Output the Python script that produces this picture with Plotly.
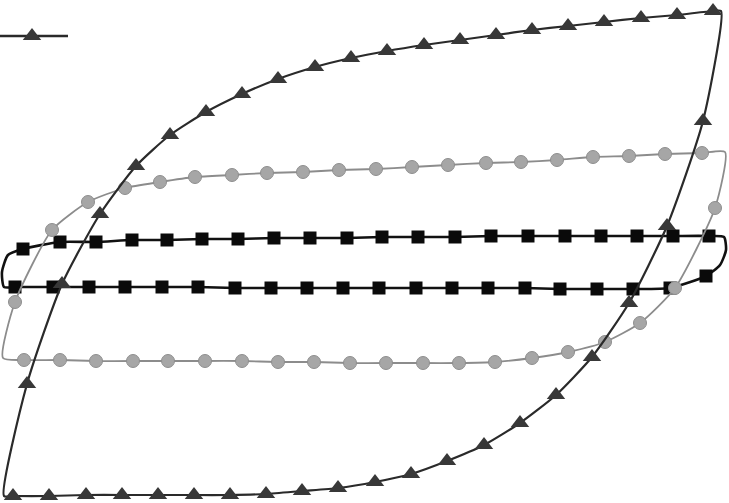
import plotly.graph_objects as go

# ---- data (x = displacement units, y = force units, screen-like scale) ----
# Triangle loop (largest)
tri_x = [4, 13, 49, 86, 122, 158, 194, 230, 266, 302, 338, 375, 411, 447, 484, 520, 556, 592, 629, 667, 703, 721,
         713, 677, 641, 604, 568, 532, 496, 460, 424, 387, 351, 315, 278, 242, 206, 170, 136, 100, 62, 27, 4]
tri_y = [496, 496, 496, 495, 495, 495, 495, 495, 494, 491, 488, 482, 474, 461, 445, 423, 395, 357, 303, 226, 121, 11,
         11, 15, 18, 22, 26, 30, 35, 40, 45, 51, 58, 67, 79, 94, 112, 135, 166, 214, 284, 384, 496]
tri_corner = [0, 21, 42]

# Circle loop (middle)
cir_x = [3, 24, 60, 96, 133, 168, 205, 242, 278, 314, 350, 386, 423, 459, 495, 532, 568, 605, 640, 675, 715, 725,
         702, 665, 629, 593, 557, 521, 486, 448, 412, 376, 339, 303, 267, 232, 195, 160, 125, 88, 52, 15, 3]
cir_y = [358, 360, 360, 361, 361, 361, 361, 361, 362, 362, 363, 363, 363, 363, 362, 358, 352, 342, 323, 288, 208, 152,
         153, 154, 156, 157, 160, 162, 163, 165, 167, 169, 170, 172, 173, 175, 177, 182, 188, 202, 230, 302, 358]
cir_corner = [0, 21, 42]

# Square loop (smallest)
sq_x = [23, 60, 96, 132, 167, 202, 238, 274, 310, 347, 382, 418, 455, 491, 528, 565, 601, 637, 673, 709, 724, 726, 720,
        706, 670, 633, 597, 560, 525, 488, 452, 416, 379, 343, 307, 271, 235, 198, 162, 125, 89, 53, 15, 4, 2, 8, 23]
sq_y = [249, 242, 242, 240, 240, 239, 239, 238, 238, 238, 237, 237, 237, 236, 236, 236, 236, 236, 236, 236, 237, 250, 265,
        276, 288, 289, 289, 289, 288, 288, 288, 288, 288, 288, 288, 288, 288, 287, 287, 287, 287, 287, 287, 287, 272, 255, 249]
sq_corner = [20, 21, 22, 43, 44, 45, 46]

# Partial legend sample (top-left)
leg_x = [0, 32, 68]
leg_y = [36, 36, 36]
leg_marked = [1]


def sizes(n, corners, s):
    return [0 if i in corners else s for i in range(n)]


fig = go.Figure()

fig.add_trace(go.Scatter(
    x=sq_x, y=sq_y, mode="lines+markers",
    line=dict(color="#111111", width=2.6, shape="spline", smoothing=0.6),
    marker=dict(symbol="square", size=sizes(len(sq_x), sq_corner, 13), color="#0a0a0a",
                opacity=1, line=dict(width=0)),
    hoverinfo="skip"))

fig.add_trace(go.Scatter(
    x=cir_x, y=cir_y, mode="lines+markers",
    line=dict(color="#8c8c8c", width=1.8, shape="spline", smoothing=0.6),
    marker=dict(symbol="circle", size=sizes(len(cir_x), cir_corner, 13), color="#a6a6a6",
                opacity=1, line=dict(width=1, color="#8e8e8e")),
    hoverinfo="skip"))

fig.add_trace(go.Scatter(
    x=tri_x, y=tri_y, mode="lines+markers",
    line=dict(color="#2a2a2a", width=2.2, shape="spline", smoothing=0.6),
    marker=dict(symbol="triangle-up", size=sizes(len(tri_x), tri_corner, 16), color="#383838",
                opacity=1, line=dict(width=0)),
    hoverinfo="skip"))

fig.add_trace(go.Scatter(
    x=leg_x, y=leg_y, mode="lines+markers",
    line=dict(color="#2a2a2a", width=2.4),
    marker=dict(symbol="triangle-up", size=[16 if i in leg_marked else 0 for i in range(len(leg_x))],
                color="#383838", opacity=1, line=dict(width=0)),
    hoverinfo="skip"))

fig.update_layout(
    width=729, height=503,
    margin=dict(l=0, r=0, t=0, b=0),
    paper_bgcolor="white", plot_bgcolor="white",
    showlegend=False,
    xaxis=dict(range=[0, 729], visible=False, fixedrange=True),
    yaxis=dict(range=[503, 0], visible=False, fixedrange=True),
)

fig.write_html("out.html", config={"displayModeBar": False, "staticPlot": True},
               post_script="document.body.style.margin='0';document.body.style.overflow='hidden';")
